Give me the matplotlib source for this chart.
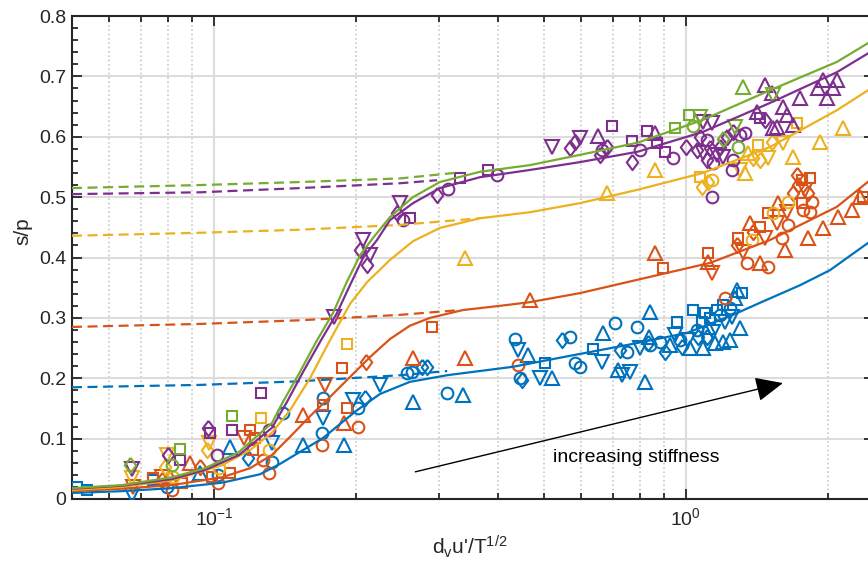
import numpy as np
import matplotlib.pyplot as plt
from matplotlib.ticker import MultipleLocator, LogLocator, NullFormatter

plt.rcParams['font.family'] = ['Liberation Sans', 'DejaVu Sans']
plt.rcParams['mathtext.fontset'] = 'custom'
plt.rcParams['mathtext.rm'] = 'Liberation Sans'
plt.rcParams['mathtext.it'] = 'Liberation Sans:italic'

# colours (MATLAB default order)
BLUE, RED, YELLOW, PURPLE, GREEN = '#0072BD', '#D95319', '#EDB120', '#7E2F8E', '#77AC30'

# ---- fitted curves (solid) ----
fit_x = [0.050, 0.0638, 0.0815, 0.0957, 0.113, 0.1327, 0.140, 0.152, 0.1645, 0.1787, 0.191,
         0.204, 0.217, 0.236, 0.264, 0.301, 0.366, 0.467, 0.596, 0.788, 1.086, 1.507, 2.089, 2.454]
green_fit = [0.018, 0.023, 0.036, 0.051, 0.078, 0.126, 0.161, 0.210, 0.260, 0.308, 0.359,
             0.404, 0.432, 0.467, 0.500, 0.525, 0.542, 0.553, 0.570, 0.590, 0.628, 0.677, 0.724, 0.757]
purple_fit_x = [0.050, 0.0638, 0.0815, 0.0957, 0.113, 0.1327, 0.1428, 0.1543, 0.1677, 0.1822, 0.1941,
                0.2068, 0.2215, 0.236, 0.264, 0.301, 0.366, 0.467, 0.596, 0.788, 1.086, 1.507, 2.089, 2.454]
purple_fit = [0.017, 0.022, 0.033, 0.048, 0.073, 0.118, 0.161, 0.210, 0.260, 0.308, 0.354,
              0.399, 0.429, 0.462, 0.490, 0.515, 0.533, 0.545, 0.558, 0.575, 0.608, 0.656, 0.707, 0.740]
yellow_fit_x = [0.050, 0.0638, 0.0815, 0.104, 0.1192, 0.1327, 0.1449, 0.1597, 0.1761, 0.1941, 0.2109,
                0.236, 0.264, 0.301, 0.366, 0.467, 0.596, 0.788, 1.086, 1.507, 2.089, 2.454]
yellow_fit = [0.015, 0.020, 0.031, 0.056, 0.081, 0.110, 0.147, 0.200, 0.263, 0.323, 0.359,
              0.396, 0.427, 0.449, 0.465, 0.475, 0.490, 0.512, 0.540, 0.583, 0.644, 0.679]
red_fit_x = [0.050, 0.0638, 0.0815, 0.104, 0.1192, 0.1327, 0.1449, 0.1597, 0.1761, 0.1941, 0.214,
             0.236, 0.260, 0.2868, 0.337, 0.404, 0.467, 0.596, 0.788, 1.124, 1.507, 2.089, 2.454]
red_fit = [0.013, 0.017, 0.023, 0.036, 0.051, 0.073, 0.103, 0.137, 0.169, 0.202, 0.235,
           0.265, 0.287, 0.300, 0.313, 0.320, 0.326, 0.341, 0.363, 0.391, 0.429, 0.484, 0.528]
blue_fit_x = [0.050, 0.0638, 0.0815, 0.104, 0.1252, 0.1379, 0.1521, 0.1702, 0.1848, 0.2009, 0.2248,
              0.260, 0.3116, 0.430, 0.5407, 0.750, 1.005, 1.258, 1.435, 1.744, 2.019, 2.43]
blue_fit = [0.010, 0.013, 0.018, 0.027, 0.041, 0.058, 0.078, 0.101, 0.124, 0.147, 0.174,
            0.194, 0.205, 0.219, 0.234, 0.255, 0.275, 0.305, 0.325, 0.354, 0.379, 0.424]

# ---- dashed extrapolations ----
dash_x = [0.050, 0.0934, 0.1521, 0.2478]
green_dash_x, green_dash = dash_x + [0.332], [0.515, 0.520, 0.525, 0.531, 0.541]
purple_dash_x, purple_dash = dash_x + [0.297], [0.505, 0.508, 0.515, 0.523, 0.528]
yellow_dash_x, yellow_dash = dash_x + [0.366], [0.436, 0.441, 0.446, 0.454, 0.465]
red_dash_x, red_dash = dash_x + [0.332], [0.285, 0.290, 0.296, 0.305, 0.313]
blue_dash_x, blue_dash = dash_x + [0.312], [0.185, 0.189, 0.195, 0.205, 0.212]

# ---- measured points (x, y) ----
blue_o = [(0.0795, 0.020), (0.102, 0.040), (0.133, 0.061), (0.140, 0.142), (0.170, 0.167), (0.169, 0.109),
          (0.202, 0.151), (0.256, 0.209), (0.263, 0.210), (0.312, 0.176), (0.434, 0.265), (0.445, 0.200),
          (0.568, 0.268), (0.596, 0.219), (0.582, 0.225), (0.707, 0.292), (0.750, 0.243), (0.788, 0.285),
          (0.839, 0.255), (0.881, 0.260), (0.971, 0.263), (1.055, 0.280), (1.18, 0.305), (1.24, 0.316)]
blue_s = [(0.0513, 0.020), (0.0538, 0.015), (0.0743, 0.031), (0.503, 0.225), (0.635, 0.248), (0.957, 0.293),
          (1.035, 0.313), (1.081, 0.293), (1.097, 0.308), (1.124, 0.300), (1.163, 0.313), (1.198, 0.321),
          (1.314, 0.341)]
blue_d = [(0.118, 0.068), (0.209, 0.167), (0.276, 0.219), (0.283, 0.219), (0.449, 0.197), (0.546, 0.263),
          (0.725, 0.247), (0.831, 0.258), (0.903, 0.243), (0.981, 0.252), (1.060, 0.268), (1.108, 0.268)]
blue_up = [(0.0934, 0.043), (0.108, 0.086), (0.154, 0.089), (0.189, 0.089), (0.264, 0.161), (0.337, 0.172),
           (0.463, 0.239), (0.520, 0.200), (0.667, 0.275), (0.718, 0.214), (0.819, 0.194), (0.835, 0.268),
           (0.839, 0.310), (0.925, 0.255), (1.020, 0.250), (1.086, 0.250), (1.113, 0.285), (1.152, 0.258),
           (1.198, 0.260), (1.239, 0.263), (1.270, 0.333), (1.282, 0.346), (1.301, 0.283)]
blue_dn = [(0.0670, 0.007), (0.133, 0.093), (0.170, 0.134), (0.197, 0.164), (0.225, 0.189), (0.441, 0.247),
           (0.491, 0.200), (0.664, 0.227), (0.732, 0.205), (0.761, 0.210), (0.799, 0.250), (0.948, 0.272),
           (1.010, 0.263), (1.141, 0.277), (1.210, 0.293), (1.252, 0.301)]

red_o = [(0.0815, 0.015), (0.102, 0.027), (0.127, 0.065), (0.131, 0.043), (0.169, 0.089), (0.202, 0.119),
         (0.441, 0.222), (1.210, 0.333), (1.347, 0.391), (1.492, 0.384), (1.645, 0.454), (1.598, 0.432),
         (1.770, 0.479), (1.849, 0.492), (1.831, 0.475)]
red_s = [(0.0743, 0.035), (0.0855, 0.027), (0.0990, 0.036), (0.108, 0.043), (0.119, 0.114), (0.122, 0.101),
         (0.121, 0.081), (0.170, 0.156), (0.187, 0.217), (0.191, 0.151), (0.290, 0.285), (0.894, 0.383),
         (1.113, 0.407), (1.289, 0.432), (1.435, 0.451), (1.492, 0.474), (1.761, 0.528), (1.831, 0.532),
         (1.761, 0.490), (2.371, 0.500)]
red_d = [(0.0776, 0.031), (0.0934, 0.053), (0.210, 0.227), (1.282, 0.421), (1.386, 0.442), (1.719, 0.537),
         (1.727, 0.520), (1.686, 0.507), (1.813, 0.507)]
red_up = [(0.0807, 0.036), (0.0890, 0.060), (0.154, 0.139), (0.189, 0.126), (0.264, 0.234), (0.340, 0.234),
          (0.467, 0.330), (0.860, 0.407), (1.113, 0.393), (1.366, 0.457), (1.435, 0.391), (1.621, 0.412),
          (1.567, 0.490), (1.813, 0.432), (1.951, 0.449), (2.099, 0.467), (2.248, 0.479), (2.337, 0.500)]
red_dn = [(0.0674, 0.020), (0.0776, 0.036), (0.116, 0.101), (0.172, 0.189), (1.135, 0.374), (1.320, 0.409),
          (1.470, 0.432), (1.559, 0.457), (1.637, 0.475), (1.787, 0.512)]

yellow_o = [(0.0818, 0.036), (0.1025, 0.051), (0.131, 0.081), (1.380, 0.429), (1.529, 0.474), (1.645, 0.492),
            (1.135, 0.528)]
yellow_s = [(0.126, 0.134), (0.191, 0.257), (1.071, 0.533), (1.421, 0.586), (1.719, 0.623)]
yellow_d = [(0.0787, 0.053), (0.0966, 0.081), (1.081, 0.517), (1.113, 0.525), (1.435, 0.561), (1.521, 0.591),
            (1.386, 0.565)]
yellow_up = [(0.340, 0.399), (0.680, 0.507), (0.860, 0.545), (1.353, 0.573), (1.686, 0.566), (1.923, 0.591),
             (2.151, 0.614), (1.334, 0.540)]
yellow_dn = [(0.0670, 0.035), (0.0795, 0.073), (0.0976, 0.093), (1.492, 0.565), (1.605, 0.590), (1.301, 0.545)]

purple_o = [(0.1015, 0.073), (0.131, 0.114), (0.251, 0.462), (0.313, 0.513), (0.398, 0.537), (0.664, 0.578),
            (0.799, 0.578), (0.939, 0.565), (1.108, 0.595), (1.141, 0.557), (1.301, 0.603), (1.334, 0.606),
            (1.258, 0.561), (1.252, 0.545), (1.135, 0.500)]
purple_s = [(0.0847, 0.065), (0.0981, 0.109), (0.109, 0.114), (0.126, 0.176), (0.260, 0.465), (0.332, 0.532),
            (0.381, 0.545), (0.697, 0.618), (0.769, 0.593), (0.827, 0.610), (0.868, 0.590), (0.903, 0.575),
            (1.435, 0.631)]
purple_d = [(0.0799, 0.073), (0.0971, 0.118), (0.204, 0.412), (0.211, 0.388), (0.244, 0.474), (0.297, 0.504),
            (0.568, 0.581), (0.582, 0.591), (0.680, 0.583), (0.657, 0.570), (0.769, 0.558), (1.000, 0.583),
            (1.071, 0.600), (1.055, 0.578), (1.124, 0.581), (1.108, 0.561), (1.180, 0.583), (1.221, 0.600),
            (1.258, 0.608), (1.470, 0.628)]
purple_up = [(0.651, 0.601), (0.860, 0.606), (1.470, 0.686), (1.521, 0.672), (1.529, 0.614), (1.414, 0.641),
             (1.605, 0.649), (1.637, 0.636), (1.559, 0.616), (1.686, 0.619), (1.904, 0.681), (1.951, 0.694),
             (1.989, 0.664), (2.049, 0.681), (2.089, 0.694), (1.744, 0.664)]
purple_dn = [(0.0670, 0.050), (0.180, 0.301), (0.207, 0.429), (0.214, 0.404), (0.248, 0.490), (0.520, 0.583),
             (0.596, 0.598), (1.086, 0.624), (1.135, 0.623), (1.086, 0.573), (1.163, 0.570), (1.198, 0.566)]

green_o = [(0.0815, 0.056), (1.035, 0.618), (1.289, 0.583)]
green_s = [(0.0847, 0.083), (0.109, 0.137), (0.948, 0.614), (1.015, 0.636)]
green_d = [(0.0664, 0.056), (1.198, 0.596)]
green_up = [(1.320, 0.682)]
green_dn = [(1.071, 0.633), (1.270, 0.616), (1.529, 0.669)]

y_ticks = [0, 0.1, 0.2, 0.3, 0.4, 0.5, 0.6, 0.7, 0.8]
y_tick_labels = ['0', '0.1', '0.2', '0.3', '0.4', '0.5', '0.6', '0.7', '0.8']

# MATLAB-like diamond (a bit taller than wide)
diamond = [(0, 1), (0.75, 0), (0, -1), (-0.75, 0), (0, 1)]
marker_style = {'o': ('o', 8.4), 's': ('s', 7.4), 'd': (diamond, 11.0), 'up': ('^', 10.2), 'dn': ('v', 10.2)}

series = [
    (BLUE, blue_fit_x, blue_fit, blue_dash_x, blue_dash,
     {'o': blue_o, 's': blue_s, 'd': blue_d, 'up': blue_up, 'dn': blue_dn}),
    (RED, red_fit_x, red_fit, red_dash_x, red_dash,
     {'o': red_o, 's': red_s, 'd': red_d, 'up': red_up, 'dn': red_dn}),
    (YELLOW, yellow_fit_x, yellow_fit, yellow_dash_x, yellow_dash,
     {'o': yellow_o, 's': yellow_s, 'd': yellow_d, 'up': yellow_up, 'dn': yellow_dn}),
    (PURPLE, purple_fit_x, purple_fit, purple_dash_x, purple_dash,
     {'o': purple_o, 's': purple_s, 'd': purple_d, 'up': purple_up, 'dn': purple_dn}),
    (GREEN, fit_x, green_fit, green_dash_x, green_dash,
     {'o': green_o, 's': green_s, 'd': green_d, 'up': green_up, 'dn': green_dn}),
]

fig = plt.figure(figsize=(8.68, 5.62), dpi=100)
ax = fig.add_axes([0.0829, 0.1121, 0.9237, 0.8594])
ax.set_xscale('log')

for color, fx, fy, dx, dy, groups in series:
    for key, pts in groups.items():
        mk, ms = marker_style[key]
        px, py = zip(*pts)
        ax.plot(px, py, linestyle='none', marker=mk, ms=ms, mfc='none', mec=color, mew=1.5, zorder=3)
for color, fx, fy, dx, dy, groups in series:
    ax.plot(fx, fy, color=color, lw=1.6, zorder=4, solid_joinstyle='round')
    ax.plot(dx, dy, color=color, lw=1.6, dashes=(4.5, 2.5), zorder=4)

ax.annotate('', xy=(1.605, 0.192), xytext=(0.267, 0.045),
            arrowprops=dict(arrowstyle='-|>,head_length=0.85,head_width=0.38',
                            color='black', lw=1.0, mutation_scale=20, shrinkA=0, shrinkB=0), zorder=5)
ax.text(0.523, 0.068, 'increasing stiffness', fontsize=14, va='center', ha='left', zorder=5)

ax.set_xlim(0.05, 2.5)
ax.set_ylim(0, 0.8)
ax.set_yticks(y_ticks)
ax.set_yticklabels(y_tick_labels)
ax.yaxis.set_minor_locator(MultipleLocator(0.02))
ax.xaxis.set_minor_locator(LogLocator(base=10, subs=np.arange(2, 10), numticks=20))
ax.xaxis.set_minor_formatter(NullFormatter())

ax.set_axisbelow(True)
ax.grid(True, which='major', color='#dcdcdc', lw=1.5, ls='-')
ax.grid(True, which='minor', axis='x', color='#c8c8c8', lw=1.2, ls=(0, (1, 1.6)))

ax.tick_params(which='both', direction='in', top=True, right=True, width=1.3,
               color='#262626', labelsize=14, labelcolor='#262626')
ax.tick_params(which='major', length=7)
ax.tick_params(which='minor', length=4)
ax.tick_params(axis='x', which='major', pad=6)
ax.tick_params(axis='y', which='major', pad=4)
for sp in ax.spines.values():
    sp.set_linewidth(1.5)
    sp.set_color('#262626')

ax.set_xlabel("d$_\\mathregular{v}$u'/T$^\\mathregular{1/2}$", fontsize=15, color='#262626')
ax.set_ylabel('s/p', fontsize=15, color='#262626')
ax.xaxis.set_label_coords(0.496, -0.072)
ax.yaxis.set_label_coords(-0.049, 0.555)

fig.savefig('out.png', dpi=100)
